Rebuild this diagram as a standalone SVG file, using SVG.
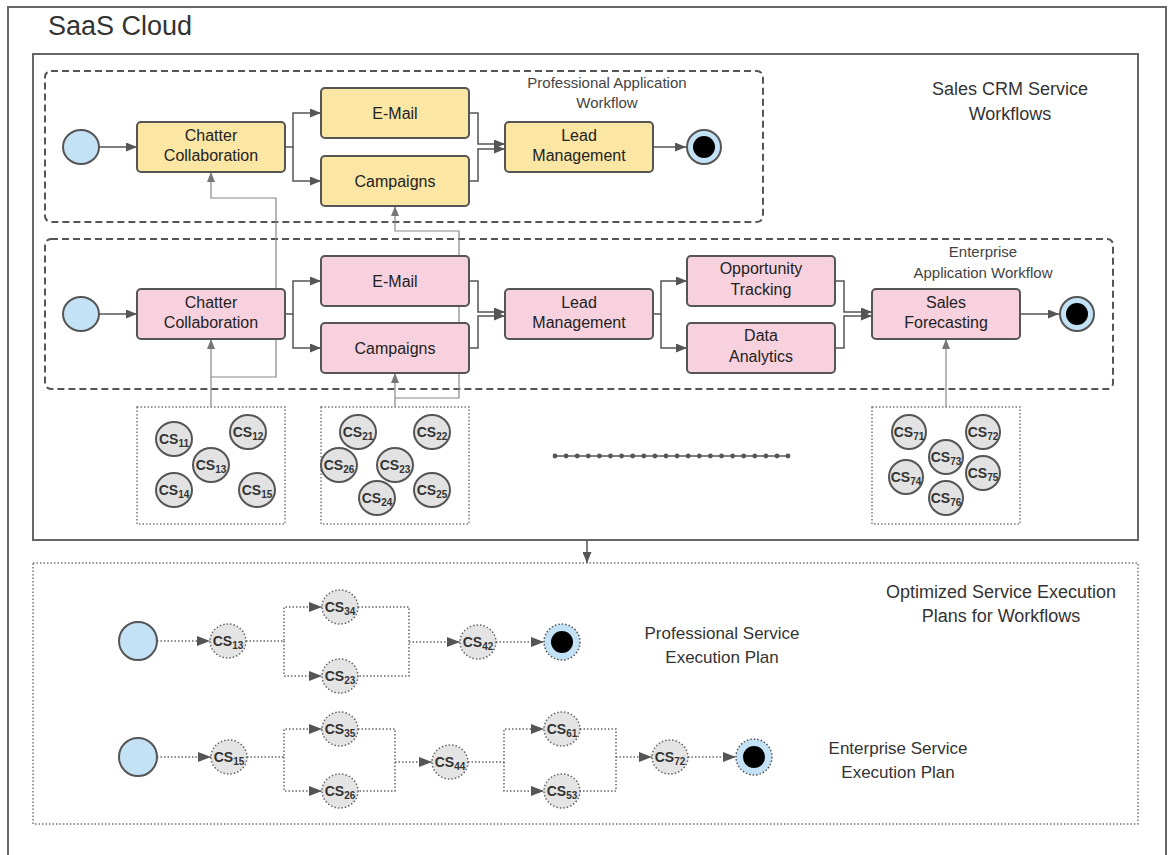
<svg xmlns="http://www.w3.org/2000/svg" width="1168" height="855" viewBox="0 0 1168 855">
  <defs>
    <style>
      .frame{fill:none;stroke:#666;stroke-width:2}
      .dash{fill:none;stroke:#555;stroke-width:2;stroke-dasharray:7 4}
      .dot{fill:none;stroke:#777;stroke-width:1.5;stroke-dasharray:1.5 2}
      .yb{fill:#fbe6a4;stroke:#555;stroke-width:2}
      .pb{fill:#f8d1de;stroke:#555;stroke-width:2}
      .lbl{font-family:"Liberation Sans",Arial,sans-serif;font-size:16px;fill:#222;text-anchor:middle}
      .note{font-family:"Liberation Sans",Arial,sans-serif;font-size:15px;fill:#444;text-anchor:middle}
      .plabel{font-family:"Liberation Sans",Arial,sans-serif;font-size:17px;fill:#333;text-anchor:middle}
      .head{font-family:"Liberation Sans",Arial,sans-serif;font-size:18px;fill:#333;text-anchor:middle}
      .cs{font-family:"Liberation Sans",Arial,sans-serif;font-size:14px;font-weight:bold;fill:#333;text-anchor:middle}
      .start{fill:#c4e2f5;stroke:#555;stroke-width:2}
      .csn{fill:#e2e2e2;stroke:#555;stroke-width:2}
      .csd{fill:#e4e4e4;stroke:#666;stroke-width:1.5;stroke-dasharray:1.5 2}
      .flow{fill:none;stroke:#555;stroke-width:1.5}
      .feed{fill:none;stroke:#888;stroke-width:1.2}
      .plan{fill:none;stroke:#666;stroke-width:1.5;stroke-dasharray:1.5 2}
    </style>
    <marker id="ah" markerUnits="userSpaceOnUse" markerWidth="11" markerHeight="9" refX="11" refY="4.5" orient="auto">
      <path d="M0,0 L11,4.5 L0,9 z" fill="#555"/>
    </marker>
    <marker id="ahs" markerUnits="userSpaceOnUse" markerWidth="10" markerHeight="8" refX="10" refY="4" orient="auto">
      <path d="M0,0 L10,4 L0,8 z" fill="#777"/>
    </marker>
    <marker id="ahp" markerUnits="userSpaceOnUse" markerWidth="13" markerHeight="10" refX="13" refY="5" orient="auto">
      <path d="M0,0 L13,5 L0,10 z" fill="#555"/>
    </marker>
  </defs>

  <rect width="1168" height="855" fill="#fff"/>

  <!-- outer cloud frame -->
  <rect class="frame" x="8" y="7" width="1158" height="860"/>
  <text x="48" y="35" font-family="Liberation Sans,Arial,sans-serif" font-size="27" fill="#333">SaaS Cloud</text>

  <!-- workflow container -->
  <rect class="frame" x="33" y="54" width="1105" height="486" stroke="#555"/>
  <text class="head" x="1010" y="95">Sales CRM Service</text>
  <text class="head" x="1010" y="120">Workflows</text>

  <!-- swimlanes -->
  <rect class="dash" x="45" y="71" width="718" height="151" rx="6"/>
  <text class="note" x="607" y="88">Professional Application</text>
  <text class="note" x="607" y="108">Workflow</text>
  <rect class="dash" x="45" y="239" width="1068" height="150" rx="6"/>
  <text class="note" x="983" y="257">Enterprise</text>
  <text class="note" x="983" y="278">Application Workflow</text>

  <!-- connectors -->
  <g id="connectors">
    <!-- professional workflow -->
    <path class="flow" d="M99,147 H137" marker-end="url(#ah)"/>
    <path class="flow" d="M285,147 H293 V113 H321" marker-end="url(#ah)"/>
    <path class="flow" d="M293,147 V181 H321" marker-end="url(#ah)"/>
    <path class="flow" d="M469,113 H478 V144 H505" marker-end="url(#ah)"/>
    <path class="flow" d="M469,181 H478 V149 H505" marker-end="url(#ah)"/>
    <path class="flow" d="M653,147 H686" marker-end="url(#ah)"/>
    <!-- enterprise workflow -->
    <path class="flow" d="M99,314 H137" marker-end="url(#ah)"/>
    <path class="flow" d="M285,314 H293 V281 H321" marker-end="url(#ah)"/>
    <path class="flow" d="M293,314 V348 H321" marker-end="url(#ah)"/>
    <path class="flow" d="M469,281 H478 V312 H505" marker-end="url(#ah)"/>
    <path class="flow" d="M469,348 H478 V316 H505" marker-end="url(#ah)"/>
    <path class="flow" d="M653,314 H661 V281 H687" marker-end="url(#ah)"/>
    <path class="flow" d="M661,314 V348 H687" marker-end="url(#ah)"/>
    <path class="flow" d="M835,281 H844 V312 H872" marker-end="url(#ah)"/>
    <path class="flow" d="M835,348 H844 V316 H872" marker-end="url(#ah)"/>
    <path class="flow" d="M1020,314 H1059" marker-end="url(#ah)"/>
    <!-- candidate service feeds -->
    <path class="feed" d="M211,407 V339" marker-end="url(#ahs)"/>
    <path class="feed" d="M211,377 H276 V198 H211 V172" marker-end="url(#ahs)"/>
    <path class="feed" d="M395,407 V373" marker-end="url(#ahs)"/>
    <path class="feed" d="M395,398 H459 V231 H395 V206" marker-end="url(#ahs)"/>
    <path class="feed" d="M946,407 V339" marker-end="url(#ahs)"/>
    <!-- optimisation step -->
    <path class="flow" d="M587,540 V563" marker-end="url(#ah)"/>
    <!-- professional plan -->
    <path class="plan" d="M157,641 H210" marker-end="url(#ahp)"/>
    <path class="plan" d="M246,641 H284 V607 H322" marker-end="url(#ahp)"/>
    <path class="plan" d="M284,641 V676 H322" marker-end="url(#ahp)"/>
    <path class="plan" d="M358,607 H409 V676 H358"/>
    <path class="plan" d="M409,642 H460" marker-end="url(#ahp)"/>
    <path class="plan" d="M496,642 H544" marker-end="url(#ahp)"/>
    <!-- enterprise plan -->
    <path class="plan" d="M157,757 H211" marker-end="url(#ahp)"/>
    <path class="plan" d="M247,757 H284 V729 H322" marker-end="url(#ahp)"/>
    <path class="plan" d="M284,757 V791 H322" marker-end="url(#ahp)"/>
    <path class="plan" d="M358,729 H395 V791 H358"/>
    <path class="plan" d="M395,762 H432" marker-end="url(#ahp)"/>
    <path class="plan" d="M468,762 H504 V729 H544" marker-end="url(#ahp)"/>
    <path class="plan" d="M504,762 V791 H544" marker-end="url(#ahp)"/>
    <path class="plan" d="M580,729 H616 V791 H580"/>
    <path class="plan" d="M616,757 H652" marker-end="url(#ahp)"/>
    <path class="plan" d="M688,757 H736" marker-end="url(#ahp)"/>
  </g>

  <!-- professional workflow nodes -->
  <g id="p-start"><ellipse class="start" cx="81" cy="147" rx="18" ry="17"/></g>
  <g id="p-chatter">
    <rect class="yb" x="137" y="122" width="148" height="50" rx="4"/>
    <text class="lbl" x="211" y="141">Chatter</text>
    <text class="lbl" x="211" y="161">Collaboration</text>
  </g>
  <g id="p-email">
    <rect class="yb" x="321" y="88" width="148" height="50" rx="4"/>
    <text class="lbl" x="395" y="119">E-Mail</text>
  </g>
  <g id="p-campaigns">
    <rect class="yb" x="321" y="156" width="148" height="50" rx="4"/>
    <text class="lbl" x="395" y="187">Campaigns</text>
  </g>
  <g id="p-lead">
    <rect class="yb" x="505" y="122" width="148" height="50" rx="4"/>
    <text class="lbl" x="579" y="141">Lead</text>
    <text class="lbl" x="579" y="161">Management</text>
  </g>
  <g id="p-end">
    <circle cx="704" cy="147" r="17" fill="#c4e2f5" stroke="#555" stroke-width="2"/>
    <circle cx="704" cy="147" r="11" fill="#000"/>
  </g>

  <!-- enterprise workflow nodes -->
  <g id="e-start"><ellipse class="start" cx="81" cy="314" rx="18" ry="17"/></g>
  <g id="e-chatter">
    <rect class="pb" x="137" y="289" width="148" height="50" rx="4"/>
    <text class="lbl" x="211" y="308">Chatter</text>
    <text class="lbl" x="211" y="328">Collaboration</text>
  </g>
  <g id="e-email">
    <rect class="pb" x="321" y="256" width="148" height="50" rx="4"/>
    <text class="lbl" x="395" y="287">E-Mail</text>
  </g>
  <g id="e-campaigns">
    <rect class="pb" x="321" y="323" width="148" height="50" rx="4"/>
    <text class="lbl" x="395" y="354">Campaigns</text>
  </g>
  <g id="e-lead">
    <rect class="pb" x="505" y="289" width="148" height="50" rx="4"/>
    <text class="lbl" x="579" y="308">Lead</text>
    <text class="lbl" x="579" y="328">Management</text>
  </g>
  <g id="e-opportunity">
    <rect class="pb" x="687" y="256" width="148" height="50" rx="4"/>
    <text class="lbl" x="761" y="274">Opportunity</text>
    <text class="lbl" x="761" y="295">Tracking</text>
  </g>
  <g id="e-analytics">
    <rect class="pb" x="687" y="323" width="148" height="50" rx="4"/>
    <text class="lbl" x="761" y="341">Data</text>
    <text class="lbl" x="761" y="362">Analytics</text>
  </g>
  <g id="e-forecast">
    <rect class="pb" x="872" y="289" width="148" height="50" rx="4"/>
    <text class="lbl" x="946" y="308">Sales</text>
    <text class="lbl" x="946" y="328">Forecasting</text>
  </g>
  <g id="e-end">
    <circle cx="1077" cy="314" r="17" fill="#c4e2f5" stroke="#555" stroke-width="2"/>
    <circle cx="1077" cy="314" r="11" fill="#000"/>
  </g>

  <!-- candidate service pools -->
  <g id="pool-1">
    <rect class="dot" x="137" y="407" width="148" height="117"/>
    <ellipse class="csn" cx="174" cy="439" rx="18" ry="17"/><text class="cs" x="174" y="444">CS<tspan font-size="10" dy="3">11</tspan></text>
    <ellipse class="csn" cx="248" cy="432" rx="18" ry="17"/><text class="cs" x="248" y="437">CS<tspan font-size="10" dy="3">12</tspan></text>
    <ellipse class="csn" cx="211" cy="465" rx="18" ry="17"/><text class="cs" x="211" y="470">CS<tspan font-size="10" dy="3">13</tspan></text>
    <ellipse class="csn" cx="174" cy="490" rx="18" ry="17"/><text class="cs" x="174" y="495">CS<tspan font-size="10" dy="3">14</tspan></text>
    <ellipse class="csn" cx="257" cy="490" rx="18" ry="17"/><text class="cs" x="257" y="495">CS<tspan font-size="10" dy="3">15</tspan></text>
  </g>
  <g id="pool-2">
    <rect class="dot" x="321" y="407" width="148" height="117"/>
    <ellipse class="csn" cx="358" cy="432" rx="18" ry="17"/><text class="cs" x="358" y="437">CS<tspan font-size="10" dy="3">21</tspan></text>
    <ellipse class="csn" cx="432" cy="432" rx="18" ry="17"/><text class="cs" x="432" y="437">CS<tspan font-size="10" dy="3">22</tspan></text>
    <ellipse class="csn" cx="339" cy="465" rx="18" ry="17"/><text class="cs" x="339" y="470">CS<tspan font-size="10" dy="3">26</tspan></text>
    <ellipse class="csn" cx="395" cy="465" rx="18" ry="17"/><text class="cs" x="395" y="470">CS<tspan font-size="10" dy="3">23</tspan></text>
    <ellipse class="csn" cx="377" cy="498" rx="18" ry="17"/><text class="cs" x="377" y="503">CS<tspan font-size="10" dy="3">24</tspan></text>
    <ellipse class="csn" cx="432" cy="490" rx="18" ry="17"/><text class="cs" x="432" y="495">CS<tspan font-size="10" dy="3">25</tspan></text>
  </g>
  <g id="pool-ellipsis">
    <line x1="555" y1="456" x2="788" y2="456" stroke="#555" stroke-width="1.5"/>
    <g fill="#555">
      <circle cx="555" cy="456" r="2.4"/><circle cx="566.1" cy="456" r="2.4"/><circle cx="577.2" cy="456" r="2.4"/><circle cx="588.3" cy="456" r="2.4"/>
      <circle cx="599.4" cy="456" r="2.4"/><circle cx="610.5" cy="456" r="2.4"/><circle cx="621.6" cy="456" r="2.4"/><circle cx="632.7" cy="456" r="2.4"/>
      <circle cx="643.8" cy="456" r="2.4"/><circle cx="654.9" cy="456" r="2.4"/><circle cx="666" cy="456" r="2.4"/><circle cx="677.1" cy="456" r="2.4"/>
      <circle cx="688.2" cy="456" r="2.4"/><circle cx="699.3" cy="456" r="2.4"/><circle cx="710.4" cy="456" r="2.4"/><circle cx="721.5" cy="456" r="2.4"/>
      <circle cx="732.6" cy="456" r="2.4"/><circle cx="743.7" cy="456" r="2.4"/><circle cx="754.8" cy="456" r="2.4"/><circle cx="765.9" cy="456" r="2.4"/>
      <circle cx="777" cy="456" r="2.4"/><circle cx="788" cy="456" r="2.4"/>
    </g>
  </g>
  <g id="pool-7">
    <rect class="dot" x="872" y="407" width="148" height="117"/>
    <ellipse class="csn" cx="909" cy="432" rx="17" ry="17"/><text class="cs" x="909" y="437">CS<tspan font-size="10" dy="3">71</tspan></text>
    <ellipse class="csn" cx="983" cy="432" rx="17" ry="17"/><text class="cs" x="983" y="437">CS<tspan font-size="10" dy="3">72</tspan></text>
    <ellipse class="csn" cx="946" cy="457" rx="17" ry="17"/><text class="cs" x="946" y="462">CS<tspan font-size="10" dy="3">73</tspan></text>
    <ellipse class="csn" cx="906" cy="477" rx="17" ry="17"/><text class="cs" x="906" y="482">CS<tspan font-size="10" dy="3">74</tspan></text>
    <ellipse class="csn" cx="983" cy="473" rx="17" ry="17"/><text class="cs" x="983" y="478">CS<tspan font-size="10" dy="3">75</tspan></text>
    <ellipse class="csn" cx="946" cy="498" rx="17" ry="17"/><text class="cs" x="946" y="503">CS<tspan font-size="10" dy="3">76</tspan></text>
  </g>

  <!-- optimized execution plans -->
  <rect class="dot" x="33" y="563" width="1105" height="261"/>
  <text class="head" x="1001" y="598">Optimized Service Execution</text>
  <text class="head" x="1001" y="622">Plans for Workflows</text>
  <text class="plabel" x="722" y="639">Professional Service</text>
  <text class="plabel" x="722" y="663">Execution Plan</text>
  <text class="plabel" x="898" y="754">Enterprise Service</text>
  <text class="plabel" x="898" y="778">Execution Plan</text>

  <g id="pp-start"><circle class="start" cx="138" cy="641" r="19"/></g>
  <g id="pp-cs13"><ellipse class="csd" cx="228" cy="641" rx="18" ry="17"/><text class="cs" x="228" y="646">CS<tspan font-size="10" dy="3">13</tspan></text></g>
  <g id="pp-cs34"><ellipse class="csd" cx="340" cy="607" rx="18" ry="17"/><text class="cs" x="340" y="612">CS<tspan font-size="10" dy="3">34</tspan></text></g>
  <g id="pp-cs23"><ellipse class="csd" cx="340" cy="676" rx="18" ry="17"/><text class="cs" x="340" y="681">CS<tspan font-size="10" dy="3">23</tspan></text></g>
  <g id="pp-cs42"><ellipse class="csd" cx="478" cy="642" rx="18" ry="17"/><text class="cs" x="478" y="647">CS<tspan font-size="10" dy="3">42</tspan></text></g>
  <g id="pp-end">
    <circle cx="562" cy="642" r="18" fill="#c4e2f5" stroke="#555" stroke-width="1.5" stroke-dasharray="1.5 2"/>
    <circle cx="562" cy="642" r="11" fill="#000"/>
  </g>

  <g id="ep-start"><circle class="start" cx="138" cy="757" r="19"/></g>
  <g id="ep-cs15"><ellipse class="csd" cx="229" cy="757" rx="18" ry="17"/><text class="cs" x="229" y="762">CS<tspan font-size="10" dy="3">15</tspan></text></g>
  <g id="ep-cs35"><ellipse class="csd" cx="340" cy="729" rx="18" ry="17"/><text class="cs" x="340" y="734">CS<tspan font-size="10" dy="3">35</tspan></text></g>
  <g id="ep-cs26"><ellipse class="csd" cx="340" cy="791" rx="18" ry="17"/><text class="cs" x="340" y="796">CS<tspan font-size="10" dy="3">26</tspan></text></g>
  <g id="ep-cs44"><ellipse class="csd" cx="450" cy="762" rx="18" ry="17"/><text class="cs" x="450" y="767">CS<tspan font-size="10" dy="3">44</tspan></text></g>
  <g id="ep-cs61"><ellipse class="csd" cx="562" cy="729" rx="18" ry="17"/><text class="cs" x="562" y="734">CS<tspan font-size="10" dy="3">61</tspan></text></g>
  <g id="ep-cs53"><ellipse class="csd" cx="562" cy="791" rx="18" ry="17"/><text class="cs" x="562" y="796">CS<tspan font-size="10" dy="3">53</tspan></text></g>
  <g id="ep-cs72"><ellipse class="csd" cx="670" cy="757" rx="18" ry="17"/><text class="cs" x="670" y="762">CS<tspan font-size="10" dy="3">72</tspan></text></g>
  <g id="ep-end">
    <circle cx="754" cy="757" r="18" fill="#c4e2f5" stroke="#555" stroke-width="1.5" stroke-dasharray="1.5 2"/>
    <circle cx="754" cy="757" r="11" fill="#000"/>
  </g>
</svg>
